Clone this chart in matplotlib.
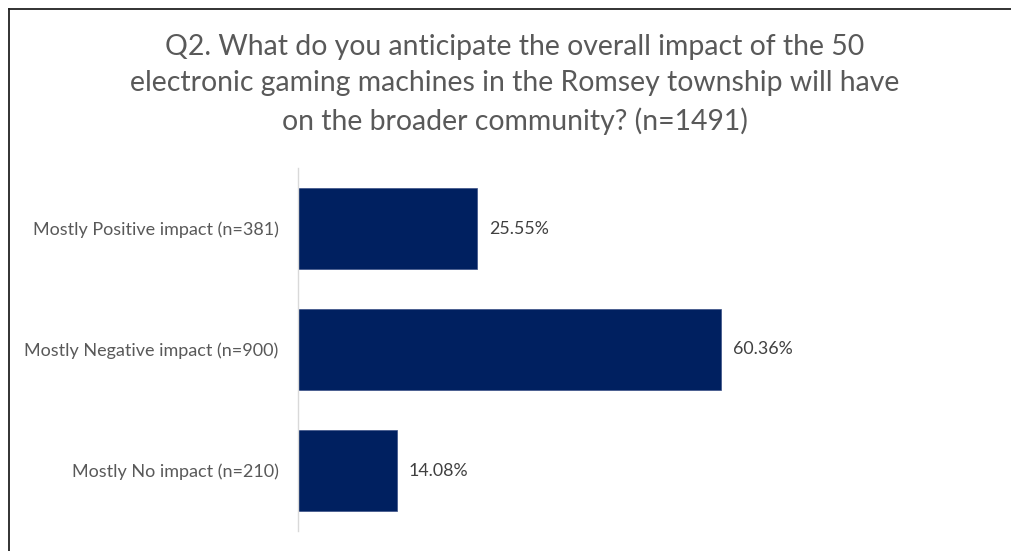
import matplotlib
matplotlib.use("Agg")
import matplotlib.pyplot as plt
from matplotlib.lines import Line2D

plt.rcParams['font.family'] = ['Lato', 'DejaVu Sans']

categories = ["Mostly Positive impact (n=381)",
              "Mostly Negative impact (n=900)",
              "Mostly No impact (n=210)"]
percentages = [25.55, 60.36, 14.08]
title = ("Q2. What do you anticipate the overall impact of the 50\n"
         "electronic gaming machines in the Romsey township will have\n"
         "on the broader community? (n=1491)")

navy = "#002060"
grey_text = "#595959"

fig = plt.figure(figsize=(10.11, 5.51), dpi=100)
ax = fig.add_axes([298 / 1011, 20 / 551, 700.6 / 1011, 363 / 551])

ypos = list(range(len(categories)))
bars = ax.barh(ypos, percentages, height=0.67, color=navy,
               edgecolor="#3a4f86", linewidth=0.5)
ax.set_xlim(0, 100)
ax.set_ylim(len(categories) - 0.5, -0.5)

ax.set_yticks(ypos)
ax.set_yticklabels(categories, fontsize=13, color=grey_text)
ax.tick_params(axis="y", length=0, pad=14)
ax.set_xticks([])

for s in ("top", "right", "bottom"):
    ax.spines[s].set_visible(False)
ax.spines["left"].set_color("#d9d9d9")
ax.spines["left"].set_linewidth(1.0)

for b, v in zip(bars, percentages):
    ax.text(b.get_width() + 1.7, b.get_y() + b.get_height() / 2, f"{v:.2f}%",
            va="center", ha="left", fontsize=12.8, color="#404040")

fig.text(515 / 1011, 1 - 34 / 551, title, ha="center", va="top",
         fontsize=20.4, color=grey_text, linespacing=1.5)

# outer frame: left and top edges only
fig.add_artist(Line2D([9 / 1011, 9 / 1011], [0, 1 - 9 / 551],
                      transform=fig.transFigure, color="#222222", lw=1.3))
fig.add_artist(Line2D([9 / 1011, 1], [1 - 9 / 551, 1 - 9 / 551],
                      transform=fig.transFigure, color="#222222", lw=1.3))

fig.savefig("out.png", dpi=100)
